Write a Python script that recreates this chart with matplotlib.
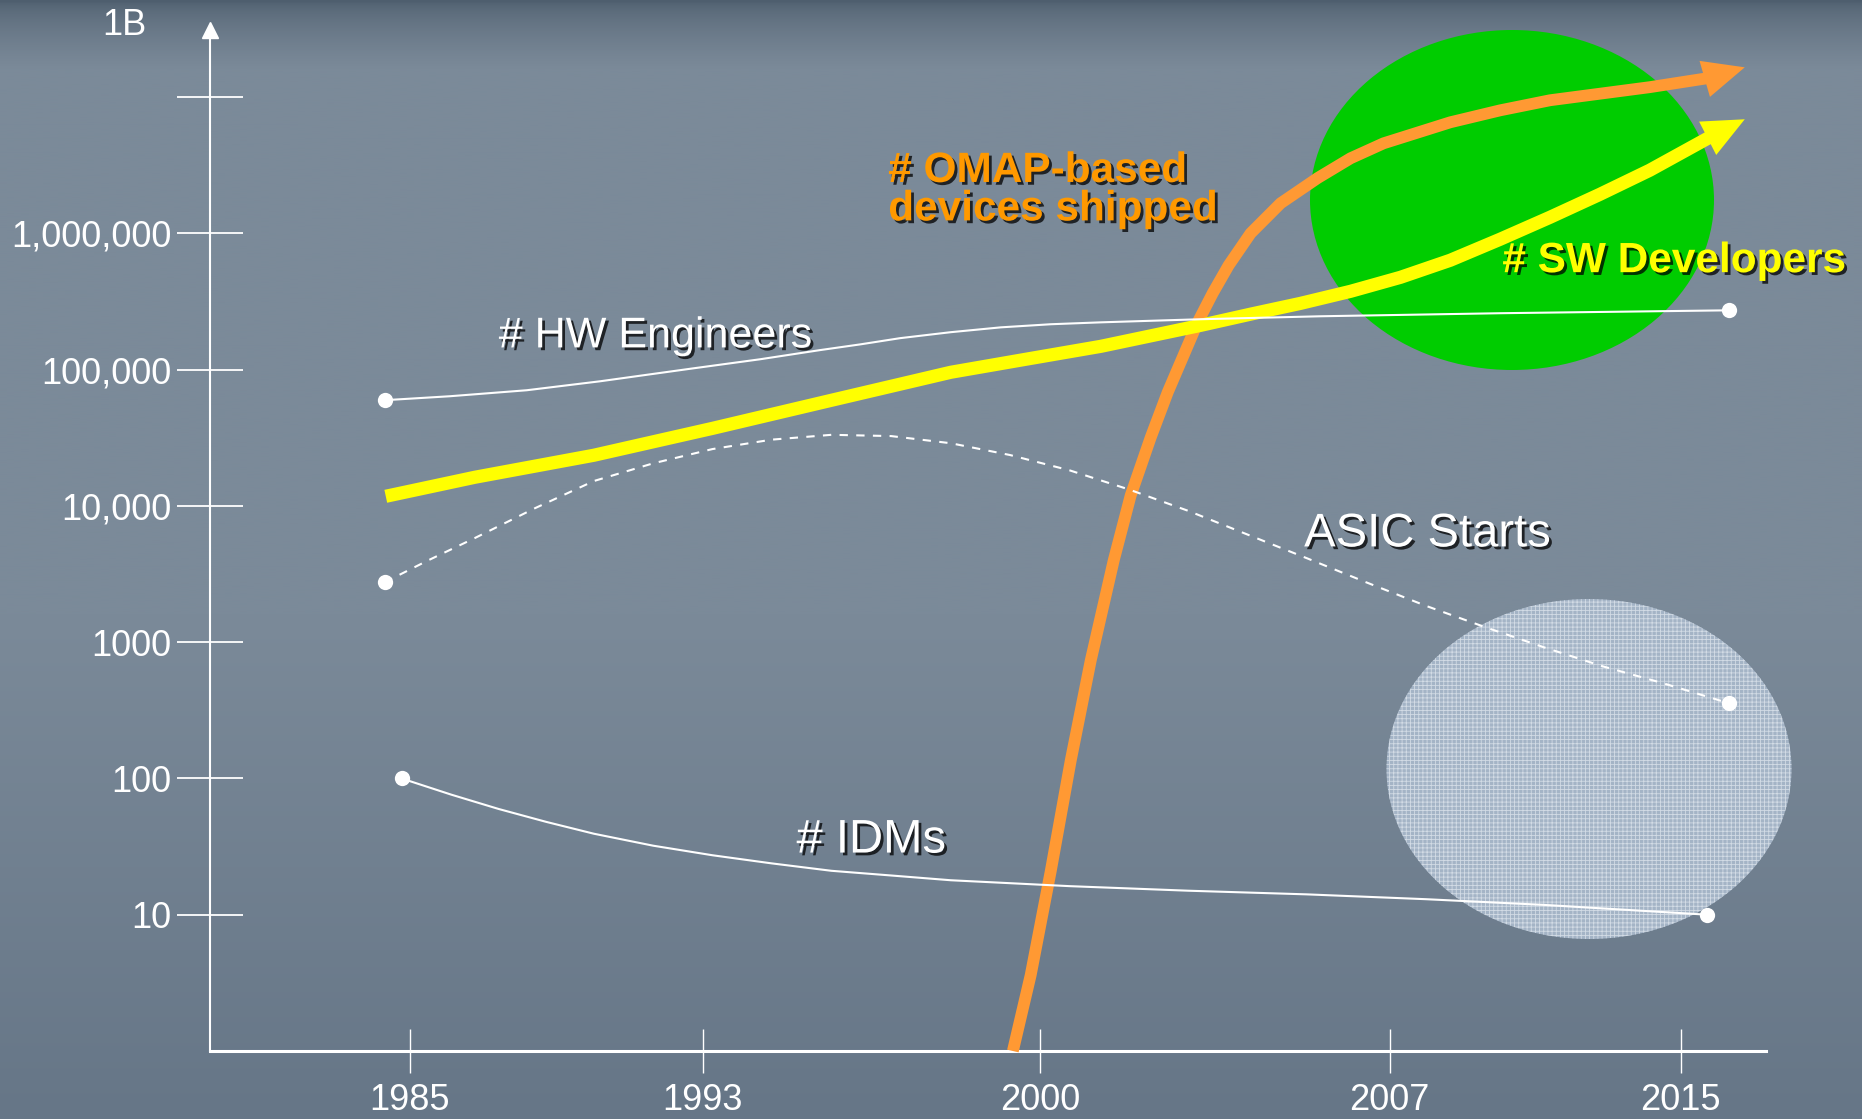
import numpy as np
import matplotlib.pyplot as plt
import matplotlib.patheffects as pe
from matplotlib.patches import Ellipse
from matplotlib.ticker import NullLocator, FixedLocator

plt.rcParams['font.family'] = ['Liberation Sans', 'DejaVu Sans']
plt.rcParams['hatch.linewidth'] = 0.6

# axis: years are not evenly spaced on the slide
year_ticks = [1985, 1993, 2000, 2007, 2015]
year_axis_pos = [0.0, 8.0, 17.2, 26.75, 34.7]
y_ticks = [10, 100, 1000, 1e4, 1e5, 1e6, 1e7]
y_tick_labels = ["10", "100", "1000", "10,000", "100,000", "1,000,000", ""]

# series (year, count)
hw_years = [1984.32, 1986.09, 1988.19, 1990.19, 1992.73, 1994.19, 1995.44, 1996.27, 1997.10,
            1998.15, 1999.19, 2000.22, 2001.22, 2003.22, 2005.62, 2010.04, 2016.32]
hw_vals = [59600, 63700, 70500, 82000, 102000, 119000, 139000, 153000, 170000,
           188000, 204000, 215000, 222000, 234000, 246000, 259000, 272000]

asic_years = [1984.31, 1985.48, 1986.77, 1988.40, 1990.02, 1991.64, 1993.20, 1994.43,
              1995.67, 1996.91, 1998.15, 1999.38, 2000.60, 2001.78, 2002.97, 2004.16,
              2005.35, 2006.53, 2007.99, 2009.62, 2011.25, 2012.87, 2014.50, 2016.32]
asic_vals = [2750, 3960, 5800, 9570, 15200, 20500, 26100, 30600,
             33200, 32500, 28800, 23600, 18200, 13200, 9190, 6150,
             4120, 2750, 1850, 1290, 915, 663, 501, 356]

idm_years = [1984.77, 1986.13, 1987.42, 1988.72, 1990.02, 1991.64, 1993.20, 1994.43, 1995.67,
             1996.91, 1998.15, 2000.60, 2002.97, 2005.35, 2007.99, 2011.25, 2015.73]
idm_vals = [100, 76, 59.7, 48, 39.3, 32.1, 27.3, 23.8, 21.0,
            19.4, 17.9, 16.2, 15.0, 14.1, 13.0, 11.8, 10.0]

sw_years = [1984.34, 1986.77, 1990.02, 1993.21, 1995.67, 1998.15, 1999.71, 2001.22,
            2003.22, 2004.22, 2005.22, 2006.22, 2007.30, 2008.67, 2010.04, 2011.41,
            2012.78, 2014.15, 2015.79]
sw_vals = [11750, 16200, 23500, 37100, 59500, 95500, 119000, 148000,
           211000, 255000, 306000, 375000, 475000, 634000, 904000, 1.31e6,
           1.93e6, 2.90e6, 5.06e6]
sw_tip = (2016.75, 6.86e6)

omap_years = [1999.44, 1999.81, 2000.22, 2000.62, 2001.02, 2001.48, 2001.82, 2002.22, 2002.56,
              2003.16, 2003.46, 2003.78, 2004.22, 2004.82, 2005.56, 2006.22, 2006.88,
              2008.67, 2010.04, 2011.41, 2014.15, 2015.71]
omap_vals = [1.0, 3.6, 21, 136, 736, 3990, 11970, 31800, 68100,
             222000, 363000, 582000, 1.0e6, 1.66e6, 2.54e6, 3.55e6, 4.57e6,
             6.52e6, 7.98e6, 9.46e6, 1.18e7, 1.37e7]
omap_tip = (2016.75, 1.65e7)

W, H = 1862, 1119
fig = plt.figure(figsize=(W / 100, H / 100), dpi=100)

# slide background
bg = fig.add_axes([0, 0, 1, 1], zorder=-10)
t = np.linspace(0, 1, 400)
top = np.array([78, 94, 110]) / 255
mid = np.array([123, 138, 153]) / 255
bot = np.array([102, 118, 135]) / 255
cols = np.empty((400, 1, 3))
for i, v in enumerate(t):
    if v < 0.06:
        c = top + (mid - top) * (v / 0.06) ** 0.6
    elif v < 0.55:
        c = mid
    else:
        c = mid + (bot - mid) * ((v - 0.55) / 0.45)
    cols[i, 0] = c
bg.imshow(cols, aspect='auto', extent=[0, 1, 0, 1], origin='upper')
bg.set_axis_off()

ax = fig.add_axes([210 / W, 68 / H, 1556 / W, 1021 / H])
ax.set_facecolor('none')


def fwd(x):
    return np.interp(x, [1900] + year_ticks + [2100],
                     [-85.0] + year_axis_pos + [year_axis_pos[-1] + 85.0])


def inv(p):
    return np.interp(p, [-85.0] + year_axis_pos + [year_axis_pos[-1] + 85.0],
                     [1900] + year_ticks + [2100])


ax.set_xscale('function', functions=(fwd, inv))
ax.set_yscale('log')
ax.set_xlim(1979.54, 2017.33)
ax.set_ylim(1, 3.1e7)

for s in ['top', 'right']:
    ax.spines[s].set_visible(False)
ax.spines['left'].set_color('white')
ax.spines['left'].set_linewidth(1.5)
ax.spines['bottom'].set_color('white')
ax.spines['bottom'].set_linewidth(2.2)

ax.xaxis.set_major_locator(FixedLocator(year_ticks))
ax.set_xticklabels([str(y) for y in year_ticks])
ax.xaxis.set_minor_locator(NullLocator())
ax.yaxis.set_major_locator(FixedLocator(y_ticks))
ax.set_yticklabels(y_tick_labels)
ax.yaxis.set_minor_locator(NullLocator())
ax.tick_params(axis='y', direction='inout', length=47, width=1.3, colors='white',
               labelsize=26, pad=4)
ax.tick_params(axis='x', direction='inout', length=32, width=1.0, colors='white',
               labelsize=26, pad=7)

# arrow tip of the y axis
ax.plot([0], [1], marker='^', ms=12, color='white', transform=ax.transAxes, clip_on=False)
ax.text(1977.2, 3.36e7, "1B", color='white', fontsize=26, ha='center', va='center',
        clip_on=False)

# ellipses
green = Ellipse((1512 / W, 1 - 200 / H), 404 / W, 340 / H, transform=fig.transFigure,
                facecolor='#00cc00', edgecolor='none', zorder=1)
ax.add_patch(green)
green.set_clip_on(False)
wafer = Ellipse((1589 / W, 1 - 769 / H), 405 / W, 340 / H, transform=fig.transFigure,
                facecolor='#a4b4c6', edgecolor='#d2dbe5', linewidth=0, hatch='++++',
                zorder=1)
ax.add_patch(wafer)
wafer.set_clip_on(False)

orange = '#ff9933'
yellow = '#ffff00'

# OMAP devices (lowest)
ax.plot(omap_years, omap_vals, color=orange, lw=8.5, solid_capstyle='butt',
        solid_joinstyle='round', zorder=3, clip_on=False)
ax.annotate('', xy=omap_tip, xytext=(omap_years[-1], omap_vals[-1]),
            arrowprops=dict(arrowstyle='-|>,head_length=1.0,head_width=0.45', color=orange,
                            lw=0, shrinkA=0, shrinkB=0, mutation_scale=30), zorder=3)

# SW developers
ax.plot(sw_years, sw_vals, color=yellow, lw=9.5, solid_capstyle='butt',
        solid_joinstyle='round', zorder=4, clip_on=False)
ax.annotate('', xy=sw_tip, xytext=(sw_years[-1], sw_vals[-1]),
            arrowprops=dict(arrowstyle='-|>,head_length=1.0,head_width=0.45', color=yellow,
                            lw=0, shrinkA=0, shrinkB=0, mutation_scale=30), zorder=4)

# white thin lines
ax.plot(hw_years, hw_vals, color='white', lw=1.5, zorder=5, clip_on=False)
ax.plot(asic_years, asic_vals, color='white', lw=1.5, ls=(0, (4, 4)), zorder=5, clip_on=False)
ax.plot(idm_years, idm_vals, color='white', lw=1.5, zorder=5, clip_on=False)
for xs, ys in [(hw_years, hw_vals), (asic_years, asic_vals), (idm_years, idm_vals)]:
    ax.plot([xs[0], xs[-1]], [ys[0], ys[-1]], 'o', color='white', ms=11, mew=0,
            zorder=6, clip_on=False)

shadow = [pe.withSimplePatchShadow(offset=(2, -2), shadow_rgbFace='black', alpha=0.75)]

ax.text(1991.7, 175000, "# HW Engineers", color='white', fontsize=31, ha='center',
        va='center', path_effects=shadow, zorder=7)
ax.text(2008.04, 6170, "ASIC Starts", color='white', fontsize=34, ha='center',
        va='center', path_effects=shadow, zorder=7)
ax.text(1996.5, 35, "# IDMs", color='white', fontsize=34, ha='center',
        va='center', path_effects=shadow, zorder=7)
ax.text(1996.85, 2.07e6, "# OMAP-based\ndevices shipped", color='#ff9900', fontsize=30.5,
        fontweight='bold', ha='left', va='center', linespacing=0.95,
        path_effects=shadow, zorder=7)
ax.text(2010.1, 624000, "# SW Developers", color=yellow, fontsize=30.5, fontweight='bold',
        ha='left', va='center', path_effects=shadow, zorder=7, clip_on=False)

fig.savefig("out.png", dpi=100)
